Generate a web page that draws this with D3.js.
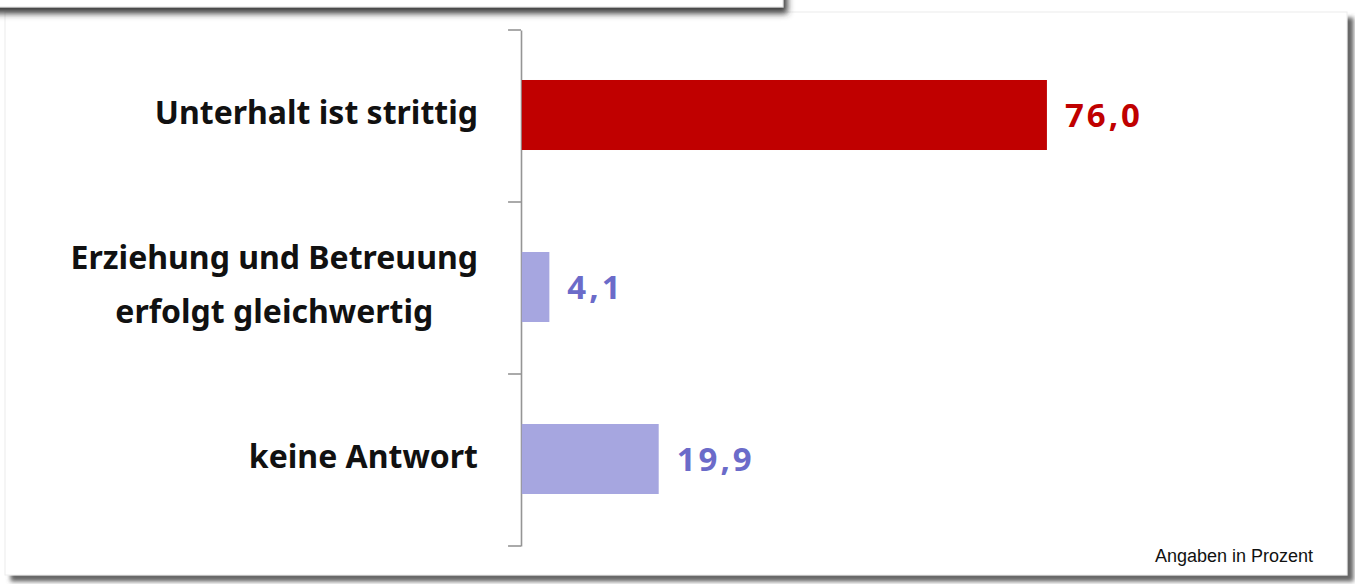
<!DOCTYPE html>
<html>
<head>
<meta charset="utf-8">
<script src="https://cdn.jsdelivr.net/npm/d3@7"></script>
<style>
  html, body { margin: 0; padding: 0; background: #ffffff; }
  svg { display: block; }
</style>
</head>
<body>
<svg id="chart" width="1355" height="584"></svg>
<script>
// Data
const categories = [
  ["Unterhalt ist strittig"],
  ["Erziehung und Betreuung", "erfolgt gleichwertig"],
  ["keine Antwort"]
];
const categoryKeys = ["unterhalt", "erziehung", "keine"];
const values = [76.0, 4.1, 19.9];
const barColors = ["#c00000", "#a6a6e0", "#a6a6e0"];
const labelColors = ["#c00000", "#6b6bc9", "#6b6bc9"];
const footnote = "Angaben in Prozent";

const svg = d3.select("#chart");
const defs = svg.append("defs");

// Card shadows
const sh = defs.append("filter").attr("id", "cardShadow")
  .attr("x", "-5%").attr("y", "-5%").attr("width", "110%").attr("height", "115%");
sh.append("feDropShadow").attr("dx", 6).attr("dy", 6).attr("stdDeviation", 2)
  .attr("flood-color", "#555555").attr("flood-opacity", 0.9);

const shTop = defs.append("filter").attr("id", "topShadow")
  .attr("x", "-5%").attr("y", "-20%").attr("width", "110%").attr("height", "180%");
shTop.append("feDropShadow").attr("dx", 4).attr("dy", 6).attr("stdDeviation", 3)
  .attr("flood-color", "#333333").attr("flood-opacity", 0.95);

// Main card
svg.append("rect")
  .attr("x", 5).attr("y", 12).attr("width", 1342).attr("height", 563)
  .attr("fill", "#ffffff").attr("stroke", "#ececec").attr("stroke-width", 1)
  .attr("filter", "url(#cardShadow)");

// Card above (only its lower edge is in view)
svg.append("rect")
  .attr("x", -20).attr("y", -60).attr("width", 803).attr("height", 67)
  .attr("fill", "#ffffff").attr("stroke", "#e2e2e2").attr("stroke-width", 1)
  .attr("filter", "url(#topShadow)");

// Scales
const y = d3.scaleBand()
  .domain(categoryKeys)
  .range([30, 546])
  .padding(0);

const x = d3.scaleLinear()
  .domain([0, 100])
  .range([521, 1213]);

const barH = y.bandwidth() * 0.407;

// Axis line
const axisG = svg.append("g")
  .attr("transform", `translate(${x(0)},0)`)
  .call(d3.axisLeft(y).tickSize(0).tickFormat(""));
axisG.select(".domain").attr("stroke", "#959595").attr("stroke-width", 1.6);
axisG.selectAll(".tick").remove();

// Boundary ticks between categories
const bounds = categoryKeys.map(k => y(k)).concat([y(categoryKeys[categoryKeys.length - 1]) + y.bandwidth()]);
svg.append("g").selectAll("line")
  .data(bounds)
  .join("line")
  .attr("x1", x(0) - 13).attr("x2", x(0))
  .attr("y1", d => d).attr("y2", d => d)
  .attr("stroke", "#959595").attr("stroke-width", 1.6);

// Bars
svg.append("g").selectAll("rect")
  .data(values)
  .join("rect")
  .attr("x", x(0) + 0.8)
  .attr("y", (d, i) => y(categoryKeys[i]) + y.bandwidth() / 2 - barH / 2 - 1)
  .attr("width", d => x(d) - x(0) - 0.8)
  .attr("height", barH)
  .attr("fill", (d, i) => barColors[i]);

// Value labels
const fmt = v => d3.format(".1f")(v).replace(".", ",");
svg.append("g").selectAll("text")
  .data(values)
  .join("text")
  .attr("x", d => x(d) + 18)
  .attr("y", (d, i) => y(categoryKeys[i]) + y.bandwidth() / 2 + 11)
  .attr("fill", (d, i) => labelColors[i])
  .style("font-family", "'Noto Sans', sans-serif")
  .style("font-weight", 700)
  .style("font-size", "33px")
  .style("letter-spacing", "3px")
  .text(fmt);

// Category labels (multi-line labels centred within a right-aligned block)
const labelRight = 478;
const lineGap = 54;
const catG = svg.append("g")
  .style("font-family", "'Noto Sans', sans-serif")
  .style("font-weight", 700)
  .style("font-size", "32px")
  .attr("fill", "#111111");

categories.forEach((lines, i) => {
  const cy = y(categoryKeys[i]) + y.bandwidth() / 2;
  const g = catG.append("g");
  const first = cy + 8 - (lines.length - 1) * lineGap / 2;
  const texts = lines.map((t, j) => g.append("text")
    .attr("y", first + j * lineGap)
    .text(t));
  const widths = texts.map(t => t.node().getComputedTextLength());
  const maxW = d3.max(widths);
  const center = labelRight - maxW / 2;
  texts.forEach(t => t.attr("x", center).attr("text-anchor", "middle"));
});

// Footnote
svg.append("text")
  .attr("x", 1313).attr("y", 562)
  .attr("text-anchor", "end")
  .style("font-family", "'Liberation Sans', Arial, sans-serif")
  .style("font-size", "18px")
  .attr("fill", "#111111")
  .text(footnote);
</script>
</body>
</html>
